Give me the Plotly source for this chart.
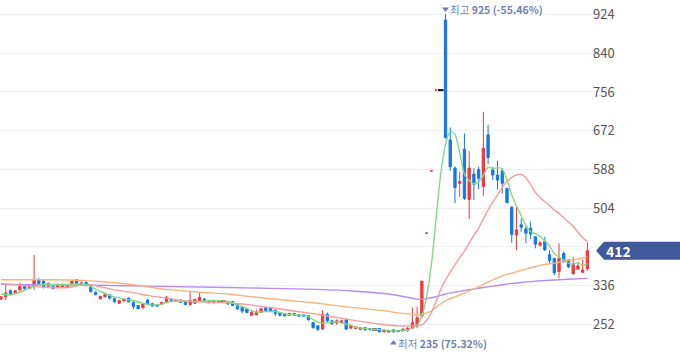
import plotly.graph_objects as go

# ---------------- data ----------------
opens = [307, 312, 325, 320, 327, 337, 330, 334, 349, 346,
         335, 335, 333, 333, 333, 340, 349, 338, 343, 335,
         322, 308, 312, 316, 308, 298, 303, 309, 300, 293,
         288, 305, 297, 294, 296, 300, 307, 302, 305, 300,
         295, 298, 303, 307, 299, 304, 304, 302, 302, 302,
         296, 289, 286, 272, 273, 278, 288, 288, 283, 278,
         275, 272, 276, 273, 273, 271, 256, 249, 242, 274,
         260, 255, 256, 262, 244, 243, 241, 245, 243, 241,
         243, 236, 235.5, 240, 239, 238, 240, 243.7, 248.7, 270,
         450, 585, 760, 760, 912, 652, 591, 558, 632, 523,
         578, 588, 551, 663, 587, 576, 585, 547, 506, 446,
         468, 459, 460.5, 442, 424, 432, 403, 395, 367, 406,
         392, 362, 372, 365, 373]
highs = [313, 340, 328, 326, 343, 339, 337, 403, 353, 348,
         343, 336, 341, 341, 339, 348, 350, 346, 345, 337,
         323, 314, 318, 317, 309, 305, 308, 311, 302, 294,
         297, 307, 299, 295, 301, 314, 308, 306, 306, 301,
         325, 308, 322, 309, 305, 305, 305, 304, 303, 303,
         298, 290, 287, 282, 284, 287, 289, 289, 284, 279,
         276, 277, 277, 274, 274, 272, 257, 250, 283, 278,
         262, 263, 261, 263, 252, 248, 246, 246, 244, 243,
         244, 241, 240, 242, 240, 243, 247, 288.5, 290.6, 346,
         450, 585, 760, 760, 925, 679, 595, 583, 666, 628,
         591, 594, 713, 685, 594, 607, 591, 548, 509, 507.5,
         482, 465.5, 475, 443, 432, 442, 413, 397, 428, 410,
         393, 398, 388, 392, 430]
lows = [305, 305, 316, 319, 323, 328, 329, 327, 339, 330,
        334, 328, 330, 331, 332, 338, 339, 336, 335, 321,
        315, 306, 311, 306, 299, 297, 302, 300, 285, 285,
        287, 294, 290, 291, 295, 298, 303, 301, 299, 294,
        293, 297, 301, 302, 298, 298, 299, 300, 295, 292,
        283, 276, 276, 271, 272, 277, 281, 280, 270, 271,
        270, 271, 271, 269, 269, 260, 243, 238, 241, 255,
        251, 251, 255, 240, 243, 242, 240, 239, 238, 240,
        235.5, 235.5, 235.5, 235, 236, 237, 236, 242.2, 243.7, 268,
        450, 585, 760, 760, 655, 585, 515, 529, 522, 481,
        522, 545, 531, 600, 565, 544, 536, 515, 429, 413.5,
        453, 428, 437, 417, 421, 412, 384, 359, 352, 385,
        374, 360, 370, 365, 368]
closes = [312, 320, 318, 325, 334, 330, 336, 348, 341, 334,
          341, 330, 338, 338, 338, 346, 341, 342, 336, 323,
          317, 313, 317, 309, 301, 304, 307, 301, 291, 286,
          296, 296, 292, 292, 300, 311, 304, 305, 300, 295,
          304, 306, 311, 303, 304, 299, 302, 302, 296.5, 293,
          286, 281, 278, 278, 278, 286, 282, 281, 276, 272,
          270.5, 276, 272, 270, 270, 262.5, 245, 241.5, 274, 260,
          254, 260, 260, 242, 250, 247, 245, 240, 241, 241,
          236, 240, 239, 236, 236.5, 242, 243.6, 256, 266.8, 346,
          450, 585, 760, 760, 657, 594, 549, 562, 525.5, 591,
          556, 569, 634, 614, 576, 565, 558, 516, 447.5, 457,
          463, 450, 448, 426, 429, 413.5, 391, 364, 395, 388,
          377, 382, 379, 370, 412]

# moving averages (candle index -> value)
ma5_x = [0, 2, 4, 6, 7, 9, 12, 15, 18, 19, 21, 23, 25, 28, 30, 32, 34, 36, 39, 42,
         44, 47, 49, 50, 52, 53, 54, 56, 58, 59, 60, 62, 64, 65, 66, 67, 68, 70, 71, 72,
         74, 75, 78, 81, 83, 84, 85, 86, 87, 88, 89, 90, 91, 92, 93, 94, 95, 96, 97, 98,
         99, 100, 101, 102, 103, 104, 105, 106, 107, 108, 109, 110, 111, 112, 113, 114, 115, 116, 117, 118,
         119, 120, 121, 122, 123, 124]
ma5_y = [318, 316, 322, 330, 335, 339, 338, 339, 339, 334, 324, 315, 309, 304, 298, 294, 296, 302, 302, 302,
         304, 303, 299, 294, 287, 282, 279, 280, 280, 278, 275, 273, 272, 269, 263, 257, 255, 257, 258, 255,
         250, 246, 242, 240, 238, 238, 239, 240, 244, 250, 271, 312, 381, 482, 580, 642, 671, 664, 624, 578,
         564, 557, 561, 575, 593, 590, 592, 589, 566, 533, 509, 488, 467, 453, 449, 443, 433, 422, 406, 398,
         392, 385, 383, 386, 380, 384]

ma20_x = [0, 4, 7, 10, 14, 17, 19, 21, 24, 28, 31, 35, 38, 42, 48, 53, 60, 67, 74, 80,
          84, 86, 88, 89, 90, 91, 92, 93, 94, 95, 96, 97, 98, 99, 100, 101, 102, 103, 104, 105,
          106, 107, 108, 109, 110, 111, 112, 113, 114, 115, 116, 117, 118, 119, 120, 121, 122, 123, 124]
ma20_y = [341, 337, 334, 332, 332, 337, 338, 334, 327, 321, 315, 309, 304, 301, 299, 294, 284, 274, 262, 253,
          249, 249, 250, 251, 261, 277, 302, 328, 348, 366, 381, 397, 411, 429, 445, 461, 481, 500, 517, 533,
          549, 562, 571, 576, 577, 570, 555, 538, 527, 518, 510, 500, 493, 483, 474, 465, 452, 440, 432]

ma60_x = [0, 7, 14, 18, 21, 28, 35, 42, 48, 53, 60, 67, 74, 81, 84, 87, 88, 89, 90, 91,
          92, 93, 94, 95, 96, 97, 98, 99, 100, 101, 102, 103, 104, 105, 106, 107, 108, 109, 110, 111,
          112, 113, 114, 115, 116, 117, 118, 119, 120, 121, 122, 123, 124]
ma60_y = [349, 349, 348.5, 347, 345, 338, 328, 322, 318, 312, 305, 298, 289, 282, 277, 274, 273, 274, 277, 281,
          289, 297, 303, 308, 312, 316, 320, 325, 329, 333, 339, 344, 348.5, 353, 357, 361, 363, 366, 369, 372,
          375, 377, 380, 382, 383.5, 385, 387, 389, 391, 392, 394, 396, 398]

ma120_x = [0, 20, 48, 67, 75, 82, 86, 88, 89, 90, 92, 94, 96, 98, 100, 102, 104, 106, 108, 110,
           113, 116, 120, 124]
ma120_y = [339, 337, 332, 328, 324, 318, 311, 307, 306.5, 308, 312, 318, 322, 326, 329, 332, 335, 338, 341, 343,
           346, 348, 350, 352]

y_ticks = [252, 336, 420, 504, 588, 672, 756, 840, 924]
y_tick_text = ["252", "336", "", "504", "588", "672", "756", "840", "924"]

last_price = 412
high_text = "최고 <b>925 (-55.46%)</b>"
low_text = "최저 <b>235 (75.32%)</b>"
high_idx = 94
low_idx = 83

# ---------------- layout constants ----------------
W, H = 680, 358
ML, MR, MT, MB = 0, 77, 0, 0
PW = W - ML - MR
PH = H - MT - MB
X_RANGE = [-0.21, 127.3]
Y_RANGE = [179.3, 955.4]

UP = "#ec3a3f"
DOWN = "#1677e6"
LABEL = "#6d7fb4"
FONT = "Noto Sans CJK KR, Noto Sans, sans-serif"


def pxx(px):
    return (px - ML) / PW


def pxy(py):
    return 1 - (py - MT) / PH


N = len(opens)
idx = list(range(N))
flat = [i for i in idx if i > 0 and opens[i] == closes[i] == closes[i - 1]]

fig = go.Figure()

fig.add_trace(go.Candlestick(
    x=idx,
    open=[None if i in flat else opens[i] for i in idx],
    high=[None if i in flat else highs[i] for i in idx],
    low=[None if i in flat else lows[i] for i in idx],
    close=[None if i in flat else closes[i] for i in idx],
    increasing=dict(line=dict(color=UP, width=1), fillcolor=UP),
    decreasing=dict(line=dict(color=DOWN, width=1), fillcolor=DOWN),
    hoverinfo="skip", showlegend=False,
))

# unchanged (black) candles
wx, wy = [], []
for i in flat:
    wx += [i, i, None]
    wy += [lows[i], highs[i], None]
fig.add_trace(go.Scatter(x=wx, y=wy, mode="lines", line=dict(color="#111", width=1),
                         hoverinfo="skip", showlegend=False))
fig.add_trace(go.Scatter(x=flat, y=[closes[i] for i in flat], mode="markers",
                         marker=dict(symbol="line-ew", size=4, line=dict(color="#111", width=2)),
                         hoverinfo="skip", showlegend=False))

for xs, ys, col in [(ma120_x, ma120_y, "#b68cf2"),
                    (ma60_x, ma60_y, "#f8b27c"),
                    (ma20_x, ma20_y, "#f59c9c"),
                    (ma5_x, ma5_y, "#86d886")]:
    fig.add_trace(go.Scatter(x=xs, y=ys, mode="lines",
                             line=dict(color=col, width=1.4, shape="spline", smoothing=0.6),
                             hoverinfo="skip", showlegend=False))

# last price badge
tip_y = MT + (Y_RANGE[1] - last_price) / (Y_RANGE[1] - Y_RANGE[0]) * PH
path = "M {:.4f},{:.4f} L {:.4f},{:.4f} L {:.4f},{:.4f} L {:.4f},{:.4f} L {:.4f},{:.4f} Z".format(
    pxx(596), pxy(tip_y), pxx(604), pxy(tip_y - 9), pxx(680), pxy(tip_y - 9),
    pxx(680), pxy(tip_y + 9), pxx(604), pxy(tip_y + 9))
fig.add_shape(type="path", path=path, xref="paper", yref="paper",
              fillcolor="#41599a", line=dict(width=0), layer="above")

fig.add_annotation(x=pxx(605), y=last_price, xref="paper", yref="y", xanchor="left", yanchor="middle",
                   text="<b>{}</b>".format(last_price), showarrow=False, borderpad=0,
                   font=dict(family=FONT, size=14, color="white"))

# high / low markers (small triangles) and labels
fig.add_trace(go.Scatter(x=[high_idx], y=[0], yaxis="y2", mode="markers",
                         marker=dict(symbol="triangle-down", size=6, color=LABEL),
                         hoverinfo="skip", showlegend=False))
fig.add_trace(go.Scatter(x=[low_idx], y=[1], yaxis="y2", mode="markers",
                         marker=dict(symbol="triangle-up", size=6, color=LABEL),
                         hoverinfo="skip", showlegend=False))

fig.add_annotation(x=high_idx, y=pxy(9), xref="x", yref="paper", xanchor="left", yanchor="middle",
                   xshift=3, text=high_text, showarrow=False, borderpad=0,
                   font=dict(family=FONT, size=10.5, color=LABEL))
fig.add_annotation(x=low_idx, y=pxy(343), xref="x", yref="paper", xanchor="left", yanchor="middle",
                   xshift=3, text=low_text, showarrow=False, borderpad=0,
                   font=dict(family=FONT, size=10.5, color=LABEL))

fig.update_layout(
    width=W, height=H,
    margin=dict(l=ML, r=MR, t=MT, b=MB, pad=0),
    paper_bgcolor="white", plot_bgcolor="white",
    showlegend=False,
    font=dict(family=FONT),
    xaxis=dict(range=X_RANGE, visible=False, rangeslider=dict(visible=False), fixedrange=True),
    yaxis=dict(range=Y_RANGE, side="right", tickvals=y_ticks, ticktext=y_tick_text,
               showgrid=True, gridcolor="#eef0f4", gridwidth=1, zeroline=False, showline=False,
               ticks="", ticklabelstandoff=-11, tickfont=dict(size=13, color="#555555", family=FONT),
               automargin=False, fixedrange=True),
    # helper axis for the small label triangles (0 = top label row, 1 = bottom label row)
    yaxis2=dict(overlaying="y", visible=False, fixedrange=True,
                range=[1 + (PH - 343) / (343 - 9), -(9) / (343 - 9)]),
)

fig.write_html("out.html", config={"displayModeBar": False},
               post_script="document.body.style.margin='0';document.body.style.overflow='hidden';")
